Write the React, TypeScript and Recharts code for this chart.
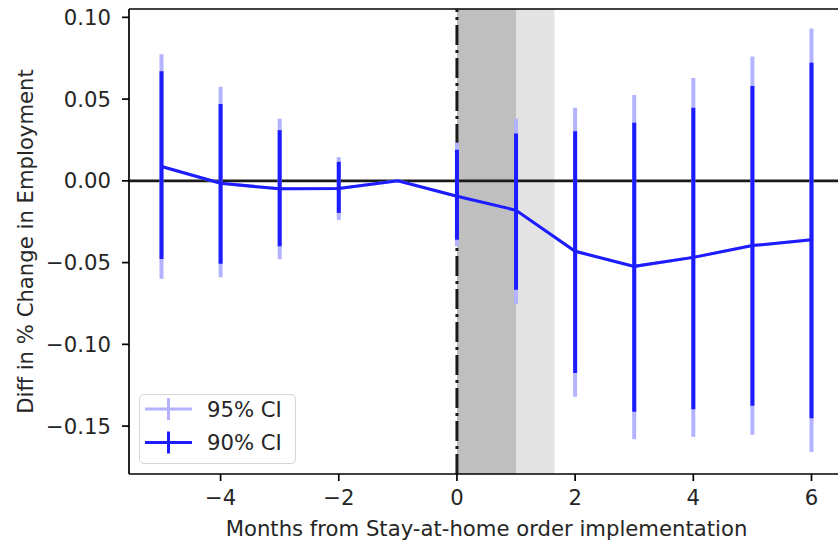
import {
  ComposedChart,
  ErrorBar,
  Line,
  ReferenceArea,
  ReferenceLine,
  XAxis,
  YAxis,
} from "recharts";

const months = [-5, -4, -3, -2, -1, 0, 1, 2, 3, 4, 5, 6];
const estimate = [0.0088, -0.0015, -0.0049, -0.0047, 0.0, -0.0094, -0.018, -0.0431, -0.0523, -0.0468, -0.0396, -0.036];
const hi95 = [0.0774, 0.0576, 0.038, 0.0145, 0, 0.0234, 0.038, 0.0447, 0.0525, 0.0629, 0.076, 0.0931];
const lo95 = [-0.0599, -0.059, -0.048, -0.024, 0, -0.04, -0.0754, -0.132, -0.158, -0.1565, -0.1553, -0.1659];
const hi90 = [0.067, 0.047, 0.031, 0.0116, 0, 0.019, 0.029, 0.0304, 0.0355, 0.0447, 0.058, 0.0723];
const lo90 = [-0.0478, -0.0507, -0.04, -0.0196, 0, -0.036, -0.0666, -0.1176, -0.1412, -0.1397, -0.1375, -0.1452];

const xTicks = [-4, -2, 0, 2, 4, 6];
const yTicks = [-0.15, -0.1, -0.05, 0, 0.05, 0.1];

const C95 = "#b3b3ff";
const C90 = "#1c1cff";
const FONT = "DejaVu Sans";
const FS = 21.2;

const rows = months.map((m, i) => ({
  month: m,
  est: estimate[i],
  e95: [estimate[i] - lo95[i], hi95[i] - estimate[i]],
  e90: [estimate[i] - lo90[i], hi90[i] - estimate[i]],
}));

const minus = (s: string) => s.replace("-", "\u2212");

// legend drawn as an overlay so it doesn't take space from the plot
function LegendBox() {
  const item = (color: string, label: string, cy: number) => (
    <g>
      <line x1={6} x2={53} y1={cy} y2={cy} stroke={color} strokeWidth={3} />
      <line x1={29.5} x2={29.5} y1={cy - 11} y2={cy + 11} stroke={color} strokeWidth={3} />
      <text x={68} y={cy + 7.5} fontSize={FS} fill="#262626" fontFamily={FONT}>
        {label}
      </text>
    </g>
  );
  return (
    <div
      style={{
        position: "absolute",
        left: 139,
        top: 394,
        width: 157,
        height: 70,
        boxSizing: "border-box",
        border: "1.5px solid #d5d5d5",
        borderRadius: 5,
        background: "rgba(255,255,255,0.8)",
      }}
    >
      <svg width={157} height={70} style={{ position: "absolute", left: -1.5, top: -1.5 }}>
        {item(C95, "95% CI", 15)}
        {item(C90, "90% CI", 48.5)}
      </svg>
    </div>
  );
}

export default function App() {
  return (
    <div
      style={{
        position: "fixed",
        left: 0,
        top: 0,
        width: 838,
        height: 544,
        overflow: "hidden",
        background: "#fff",
      }}
    >
      <ComposedChart
        width={846}
        height={544}
        data={rows}
        margin={{ top: 9, right: 2, bottom: 0, left: 0 }}
      >
        <ReferenceArea x1={0} x2={1} fill="#bfbfbf" fillOpacity={1} stroke="none" />
        <ReferenceArea x1={1} x2={1.65} fill="#e3e3e3" fillOpacity={1} stroke="none" />
        <XAxis
          dataKey="month"
          type="number"
          domain={[-5.55, 6.55]}
          allowDataOverflow
          ticks={xTicks}
          tickFormatter={(v: number) => minus(String(v))}
          tick={{ fontSize: FS, fill: "#262626", fontFamily: FONT }}
          tickSize={7}
          tickMargin={9}
          height={70}
          axisLine={{ stroke: "#000", strokeWidth: 1.7 }}
          tickLine={{ stroke: "#000", strokeWidth: 1.7 }}
          label={{
            value: "Months from Stay-at-home order implementation",
            position: "insideBottom",
            offset: 8,
            fontSize: FS,
            fill: "#262626",
            fontFamily: FONT,
          }}
        />
        <YAxis
          type="number"
          domain={[-0.1793, 0.1051]}
          allowDataOverflow
          ticks={yTicks}
          tickFormatter={(v: number) => minus(v.toFixed(2))}
          tick={{ fontSize: FS, fill: "#262626", fontFamily: FONT }}
          tickSize={7}
          tickMargin={11}
          width={129}
          axisLine={{ stroke: "#000", strokeWidth: 1.7 }}
          tickLine={{ stroke: "#000", strokeWidth: 1.7 }}
          label={() => (
            <text
              x={33}
              y={241.5}
              transform="rotate(-90 33 241.5)"
              textAnchor="middle"
              fontSize={FS}
              fill="#262626"
              fontFamily={FONT}
            >
              Diff in % Change in Employment
            </text>
          )}
        />
        <ReferenceLine y={0.1051} stroke="#000" strokeWidth={1.7} />
        <ReferenceLine y={0} stroke="#1a1a1a" strokeWidth={2.6} />
        <ReferenceLine x={0} stroke="#1a1a1a" strokeWidth={3} strokeDasharray="20 5 3 5" />
        <Line
          dataKey="est"
          stroke={C95}
          strokeWidth={3}
          dot={false}
          isAnimationActive={false}
        >
          <ErrorBar dataKey="e95" width={0} stroke={C95} strokeWidth={4} direction="y" />
        </Line>
        <Line
          dataKey="est"
          stroke={C90}
          strokeWidth={3}
          dot={false}
          isAnimationActive={false}
        >
          <ErrorBar dataKey="e90" width={0} stroke={C90} strokeWidth={4} direction="y" />
        </Line>
      </ComposedChart>
      <LegendBox />
    </div>
  );
}
